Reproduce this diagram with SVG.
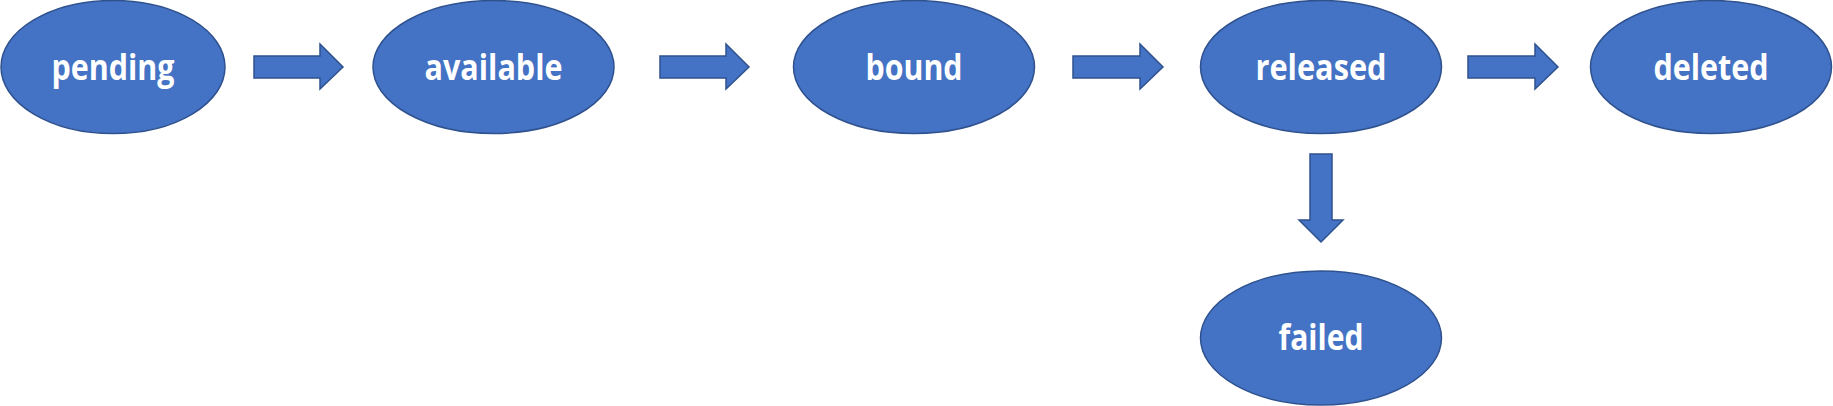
<svg xmlns="http://www.w3.org/2000/svg" width="1833" height="406" viewBox="0 0 1833 406">
<style>
.n{fill:#4472C4;stroke:#2F528F;stroke-width:1.5}
.t{font-family:"Open Sans","Liberation Sans",sans-serif;font-weight:bold;font-size:35px;fill:#FFFFFF;text-anchor:middle}
.a{fill:#4472C4;stroke:#2F528F;stroke-width:1.5;stroke-linejoin:miter}
</style>
<rect width="1833" height="406" fill="#FFFFFF"/>
<g id="pending"><ellipse class="n" cx="113" cy="67" rx="112" ry="66.5"/><text class="t" x="113" y="80" textLength="123" lengthAdjust="spacingAndGlyphs">pending</text></g>
<g id="available"><ellipse class="n" cx="493.5" cy="67" rx="120.5" ry="66.5"/><text class="t" x="493.5" y="80" textLength="138" lengthAdjust="spacingAndGlyphs">available</text></g>
<g id="bound"><ellipse class="n" cx="914" cy="67" rx="120.5" ry="66.5"/><text class="t" x="914" y="80" textLength="97" lengthAdjust="spacingAndGlyphs">bound</text></g>
<g id="released"><ellipse class="n" cx="1321" cy="67" rx="120.5" ry="66.5"/><text class="t" x="1321" y="80" textLength="131" lengthAdjust="spacingAndGlyphs">released</text></g>
<g id="deleted"><ellipse class="n" cx="1711" cy="67" rx="120.5" ry="66.5"/><text class="t" x="1711" y="80" textLength="115" lengthAdjust="spacingAndGlyphs">deleted</text></g>
<g id="failed"><ellipse class="n" cx="1321" cy="338" rx="120.5" ry="67"/><text class="t" x="1321" y="350" textLength="85" lengthAdjust="spacingAndGlyphs">failed</text></g>
<g id="connectors">
<polygon class="a" points="254,56 320,56 320,44 343,67 320,89 320,78 254,78"/>
<polygon class="a" points="660,56 726,56 726,44 749,67 726,89 726,78 660,78"/>
<polygon class="a" points="1073,56 1140,56 1140,44 1163,67 1140,89 1140,78 1073,78"/>
<polygon class="a" points="1468,56 1535,56 1535,44 1558,67 1535,89 1535,78 1468,78"/>
<polygon class="a" points="1310,154 1332,154 1332,220 1343,220 1321,242 1299,220 1310,220"/>
</g>
</svg>
